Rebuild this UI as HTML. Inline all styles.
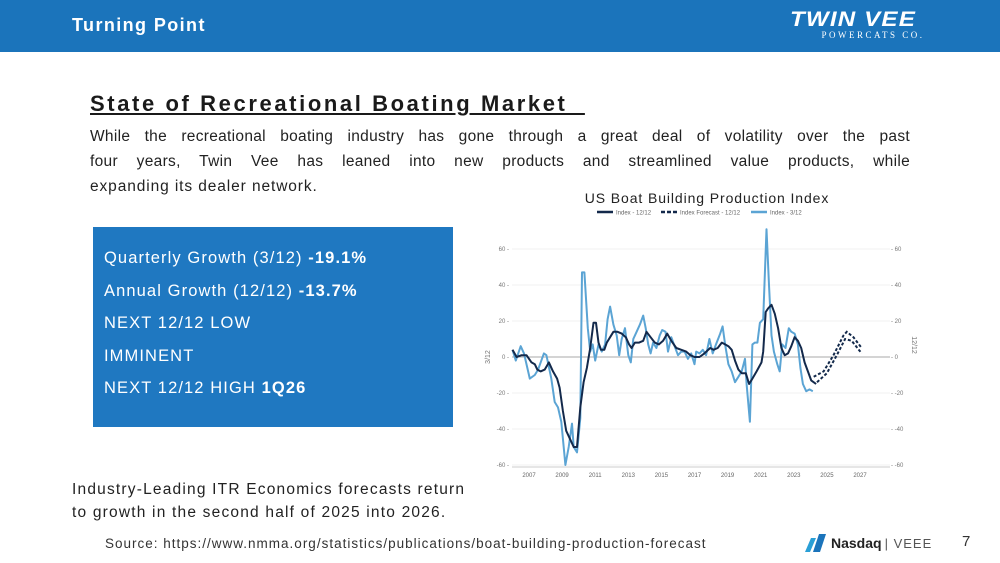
<!DOCTYPE html>
<html><head><meta charset="utf-8">
<style>
*{margin:0;padding:0;box-sizing:border-box}
body{width:1000px;height:563px;overflow:hidden;background:#fff;font-family:"Liberation Sans",sans-serif;position:relative;color:#222}
.abs{position:absolute}
.jl{text-align:justify;text-align-last:justify}
</style></head><body>
<div class="abs" style="left:0;top:0;width:1000px;height:52px;background:#1b74bb"></div>
<div class="abs" style="left:72px;top:15px;color:#fff;font-weight:bold;font-size:18px;letter-spacing:1.4px">Turning Point</div>
<div class="abs" style="left:778px;top:10px;width:150px;text-align:center;color:#fff">
 <div style="font-weight:900;font-style:italic;font-size:21px;line-height:19px;letter-spacing:1px;transform:scaleX(1.15)">TWIN VEE</div>
 <div style="font-family:'Liberation Serif',serif;font-size:9px;letter-spacing:2.5px;line-height:12px;padding-left:40px">POWERCATS CO.</div>
</div>
<div class="abs" style="left:90px;top:91px;font-size:22px;font-weight:bold;text-decoration:underline;color:#1a1a1a;letter-spacing:2.6px">State of Recreational Boating Market&nbsp;&nbsp;</div>
<div class="abs" style="left:90px;top:124px;width:820px;font-size:15.5px;line-height:25px;color:#222;letter-spacing:0.3px">
 <div class="jl">While the recreational boating industry has gone through a great deal of volatility over the past</div>
 <div class="jl">four years, Twin Vee has leaned into new products and streamlined value products, while</div>
 <div style="letter-spacing:0.9px">expanding its dealer network.</div>
</div>
<div class="abs" style="left:93px;top:227px;width:360px;height:200px;background:#1f78c1;color:#fff;font-size:16.5px;padding:15px 0 0 11px;line-height:32.5px;letter-spacing:1.1px">
 <div>Quarterly Growth (3/12) <b>-19.1%</b></div>
 <div>Annual Growth (12/12) <b>-13.7%</b></div>
 <div>NEXT 12/12 LOW</div>
 <div>IMMINENT</div>
 <div>NEXT 12/12 HIGH <b>1Q26</b></div>
</div>
<div class="abs" style="left:72px;top:478px;font-size:15.5px;line-height:23px;color:#222;letter-spacing:1.2px">Industry-Leading ITR Economics forecasts return<br>to growth in the second half of 2025 into 2026.</div>
<div class="abs" style="left:105px;top:536px;font-size:13.5px;color:#333;letter-spacing:1px">Source: https://www.nmma.org/statistics/publications/boat-building-production-forecast</div>
<div class="abs" style="left:803px;top:532px;height:22px;display:flex;align-items:center">
 <svg width="26" height="22"><polygon points="2,20 8,6 13,6 7,20" fill="#2a9fd6"/><polygon points="10,20 16,2 23,2 17,20" fill="#1b74bb"/></svg>
 <span style="font-size:14px;font-weight:bold;color:#222;margin-left:2px">Nasdaq</span><span style="font-size:13px;color:#555;margin-left:3px;letter-spacing:1px">| VEEE</span>
</div>
<div class="abs" style="left:962px;top:533px;font-size:15px;color:#333">7</div>

<svg class="abs" style="left:0;top:0" width="1000" height="563" id="chart"></svg>
<script>
const ticks=[-60,-40,-20,0,20,40,60];
const yearTicks=[2007,2009,2011,2013,2015,2017,2019,2021,2023,2025,2027];
const lightYears=[2006.0,2006.2,2006.5,2006.7,2007.05,2007.35,2007.55,2007.9,2008.05,2008.35,2008.55,2008.75,2008.95,2009.2,2009.4,2009.6,2009.7,2009.9,2010.1,2010.2,2010.35,2010.55,2010.7,2010.85,2011.0,2011.2,2011.4,2011.6,2011.75,2011.9,2012.1,2012.3,2012.45,2012.6,2012.8,2013.0,2013.15,2013.3,2013.5,2013.7,2013.9,2014.05,2014.2,2014.35,2014.5,2014.7,2014.9,2015.05,2015.25,2015.4,2015.6,2015.8,2016.0,2016.2,2016.4,2016.6,2016.8,2017.0,2017.1,2017.3,2017.5,2017.7,2017.9,2018.1,2018.3,2018.55,2018.7,2018.85,2019.05,2019.25,2019.45,2019.65,2019.85,2020.05,2020.15,2020.35,2020.5,2020.65,2020.8,2020.95,2021.15,2021.35,2021.5,2021.65,2021.8,2022.0,2022.15,2022.3,2022.5,2022.7,2022.85,2023.05,2023.25,2023.4,2023.55,2023.75,2023.95,2024.15];
const lightVals=[4,-2,6,2,-12,-10,-7,2,1,-12,-25,-28,-36,-60,-50,-37,-50,-53,-34,47,47,16,3,7,-2,7,3,7,21,28,18,12,1,10,16,1,-3,10,14,18,23,16,7,2,8,5,12,15,14,3,11,6,1,3,3,-1,2,-4,3,2,4,1,10,2,7,13,17,7,-4,-8,-14,-11,-8,-1,-15,-36,7,8,8,19,21,71,40,12,3,-4,-8,7,5,16,14,13,7,-6,-15,-19,-18,-19];
const darkYears=[2006.0,2006.25,2006.55,2006.85,2007.15,2007.35,2007.5,2007.7,2007.95,2008.2,2008.45,2008.7,2008.85,2009.05,2009.25,2009.5,2009.7,2009.9,2010.1,2010.3,2010.5,2010.7,2010.9,2011.05,2011.2,2011.35,2011.55,2011.7,2011.9,2012.1,2012.35,2012.6,2012.85,2013.05,2013.2,2013.4,2013.65,2013.9,2014.1,2014.35,2014.6,2014.85,2015.1,2015.35,2015.6,2015.9,2016.2,2016.5,2016.75,2017.0,2017.3,2017.6,2017.95,2018.15,2018.4,2018.65,2018.85,2019.05,2019.25,2019.45,2019.65,2019.85,2020.1,2020.3,2020.5,2020.75,2021.05,2021.15,2021.3,2021.45,2021.65,2021.85,2022.05,2022.25,2022.45,2022.65,2022.85,2023.05,2023.25,2023.45,2023.65,2023.85,2024.05,2024.35];
const darkVals=[4,0,1,1,-3,-4,-7,-8,-7,-3,-8,-12,-17,-30,-41,-46,-50,-50,-28,-14,-6,5,19,19,8,4,4,8,11,14,14,13,11,7,5,8,8,9,14,11,8,7,9,13,9,5,4,3,1,0,0,2,5,4,5,8,7,6,4,-2,-7,-9,-9,-15,-12,-8,-3,3,25,27,29,24,16,5,1,2,6,11,9,5,-3,-8,-13,-15];
const fcUpYears=[2024.2,2024.8,2025.4,2026.0,2026.2,2026.6,2027.1];
const fcUpVals=[-11,-8,1,12,14,11,5];
const fcLoYears=[2024.4,2025.0,2025.6,2026.1,2026.5,2027.1];
const fcLoVals=[-14,-9,1,10,9,2];

const svg=document.getElementById('chart');
const NS='http://www.w3.org/2000/svg';
const X0=512,X1=890;
const xs=y=>529+(y-2007)*16.55;
const ys=v=>357-v*1.8;
function mk(tag,attrs,name,text){const e=document.createElementNS(NS,tag);for(const k in attrs)e.setAttribute(k,attrs[k]);


if(text!==undefined)e.textContent=text;svg.appendChild(e);return e;}
mk('text',{x:707,y:203,'text-anchor':'middle','font-size':14,'letter-spacing':0.9,fill:'#222'},'chart-title','US Boat Building Production Index');
mk('line',{x1:597,y1:212,x2:613,y2:212,stroke:'#13294b','stroke-width':2.5},'legend-dark-line');
mk('text',{x:616,y:214.5,'font-size':6,fill:'#666'},'legend-dark-label','Index - 12/12');
mk('line',{x1:661,y1:212,x2:677,y2:212,stroke:'#13294b','stroke-width':2.5,'stroke-dasharray':'4 2'},'legend-forecast-line');
mk('text',{x:680,y:214.5,'font-size':6,fill:'#666'},'legend-forecast-label','Index Forecast - 12/12');
mk('line',{x1:751,y1:212,x2:767,y2:212,stroke:'#5ba4d4','stroke-width':2.5},'legend-light-line');
mk('text',{x:770,y:214.5,'font-size':6,fill:'#666'},'legend-light-label','Index - 3/12');
ticks.forEach(t=>{
 if(t!==0) mk('line',{x1:X0,y1:ys(t),x2:X1,y2:ys(t),stroke:'#f2f2f2','stroke-width':1},'gridline');
 mk('text',{x:509,y:ys(t)+2,'text-anchor':'end','font-size':6,fill:'#777'},'left-tick-label',t+' -');
 mk('text',{x:891,y:ys(t)+2,'font-size':6,fill:'#777'},'right-tick-label','- '+t);
});
mk('line',{x1:X0,y1:ys(0),x2:X1,y2:ys(0),stroke:'#aaa','stroke-width':1},'zero-line');
mk('line',{x1:X0,y1:467,x2:X1,y2:467,stroke:'#ccc','stroke-width':1},'x-axis-line');
yearTicks.forEach(y=>mk('text',{x:xs(y),y:477,'text-anchor':'middle','font-size':6,fill:'#666'},'x-tick-label',String(y)));
mk('text',{x:490,y:357,'text-anchor':'middle','font-size':7,fill:'#777',transform:'rotate(-90 490 357)'},'left-axis-title','3/12');
mk('text',{x:912,y:345,'text-anchor':'middle','font-size':7,fill:'#777',transform:'rotate(90 912 345)'},'right-axis-title','12/12');
function path(xa,va){return xa.map((y,i)=>(i?'L':'M')+xs(y).toFixed(1)+','+ys(va[i]).toFixed(1)).join('');}
mk('path',{d:path(lightYears,lightVals),fill:'none',stroke:'#5ba4d4','stroke-width':2,'stroke-linejoin':'round'},'series-index-3-12');
mk('path',{d:path(darkYears,darkVals),fill:'none',stroke:'#13294b','stroke-width':2,'stroke-linejoin':'round'},'series-index-12-12');
mk('path',{d:path(fcUpYears,fcUpVals),fill:'none',stroke:'#13294b','stroke-width':2,'stroke-dasharray':'3 2'},'series-forecast-upper');
mk('path',{d:path(fcLoYears,fcLoVals),fill:'none',stroke:'#13294b','stroke-width':2,'stroke-dasharray':'3 2'},'series-forecast-lower');
</script>
</body></html>
